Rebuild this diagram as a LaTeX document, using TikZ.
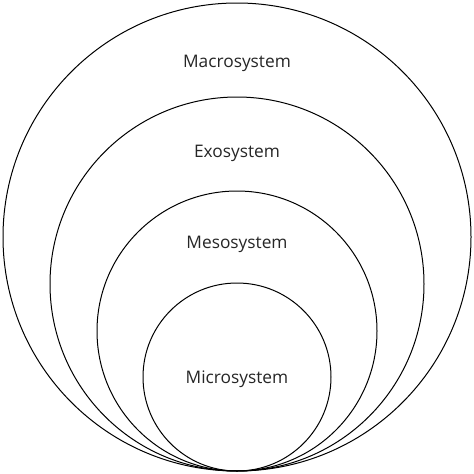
\documentclass[tikz,border=0pt]{standalone}
\usepackage{fontspec}
\setmainfont{Open Sans}
\begin{document}
\begin{tikzpicture}[x=1pt,y=-1pt,
  ring/.style={draw=black,line width=1pt,circle,inner sep=0pt},
  lbl/.style={font=\fontsize{17.3}{20}\selectfont,text=black!85}]
\useasboundingbox[fill=white] (0,0) rectangle (474,474);
\node[ring,minimum size=468pt] (macro) at (237,237) {};
\node[ring,minimum size=374pt] (exo) at (237,284) {};
\node[ring,minimum size=280pt] (meso) at (237,331) {};
\node[ring,minimum size=188pt] (micro) at (237,377) {};
\node[lbl] (tmacro) at (237,63) {Macrosystem};
\node[lbl] (texo) at (237,153) {Exosystem};
\node[lbl] (tmeso) at (237,244) {Mesosystem};
\node[lbl] (tmicro) at (237,379) {Microsystem};
\end{tikzpicture}
\end{document}
